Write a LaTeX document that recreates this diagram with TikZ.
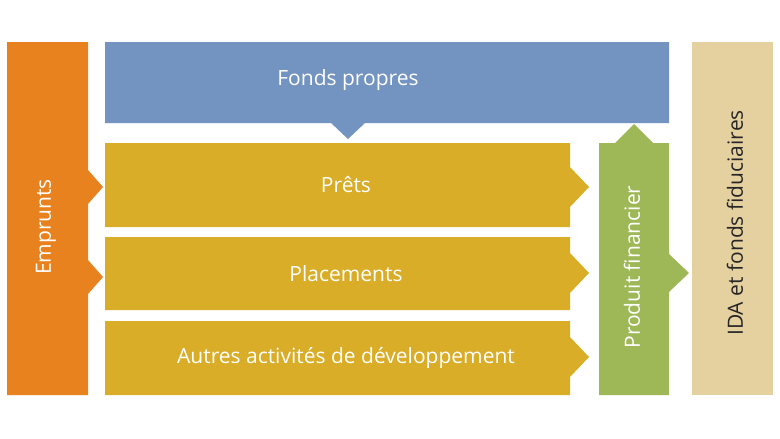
\documentclass[tikz,border=0pt]{standalone}
\usepackage{fontspec}
\setmainfont{Open Sans}
\definecolor{corange}{HTML}{E8821E}
\definecolor{cblue}{HTML}{7393C0}
\definecolor{cyellow}{HTML}{D9AD27}
\definecolor{cgreen}{HTML}{9EB857}
\definecolor{ctan}{HTML}{E5D0A0}
\definecolor{ctext}{HTML}{262626}
\begin{document}
\begin{tikzpicture}[x=1pt,y=-1pt,
  lbl/.style={text=white,font=\fontsize{21}{25}\selectfont,inner sep=0pt},
  dlbl/.style={text=ctext,font=\fontsize{21}{25}\selectfont,inner sep=0pt}]
\useasboundingbox (0,0) rectangle (780,439);
\fill[white] (0,0) rectangle (780,439);
% Emprunts
\fill[corange] (7,42) -- (88,42) -- (88,170) -- (103,187) -- (88,204) -- (88,260) -- (103,277) -- (88,294) -- (88,395) -- (7,395) -- cycle;
% Fonds propres
\fill[cblue] (105,42) -- (669,42) -- (669,123) -- (365,123) -- (348,139) -- (331,123) -- (105,123) -- cycle;
% Prets
\fill[cyellow] (105,143) -- (570,143) -- (570,167) -- (589,187) -- (570,207) -- (570,227) -- (105,227) -- cycle;
% Placements
\fill[cyellow] (105,237) -- (570,237) -- (570,253) -- (589,273) -- (570,293) -- (570,310) -- (105,310) -- cycle;
% Autres
\fill[cyellow] (105,321) -- (570,321) -- (570,337) -- (589,357) -- (570,377) -- (570,395) -- (105,395) -- cycle;
% Produit financier
\fill[cgreen] (599,143) -- (615,143) -- (634,124) -- (653,143) -- (669,143) -- (669,254) -- (689,273) -- (669,292) -- (669,395) -- (599,395) -- cycle;
% IDA
\fill[ctan] (692,42) rectangle (773,395);
\node[lbl,rotate=90] (emp) at (46,227) {Emprunts};
\node[lbl] (fp) at (348,80) {Fonds propres};
\node[lbl] (pr) at (346,185) {Prêts};
\node[lbl] (pl) at (346,274) {Placements};
\node[lbl] (au) at (346,358) {Autres activités de développement};
\node[lbl,rotate=90] (pf) at (632,267) {Produit financier};
\node[dlbl,rotate=90] (ida) at (735,223) {IDA et fonds fiduciaires};
\end{tikzpicture}
\end{document}
